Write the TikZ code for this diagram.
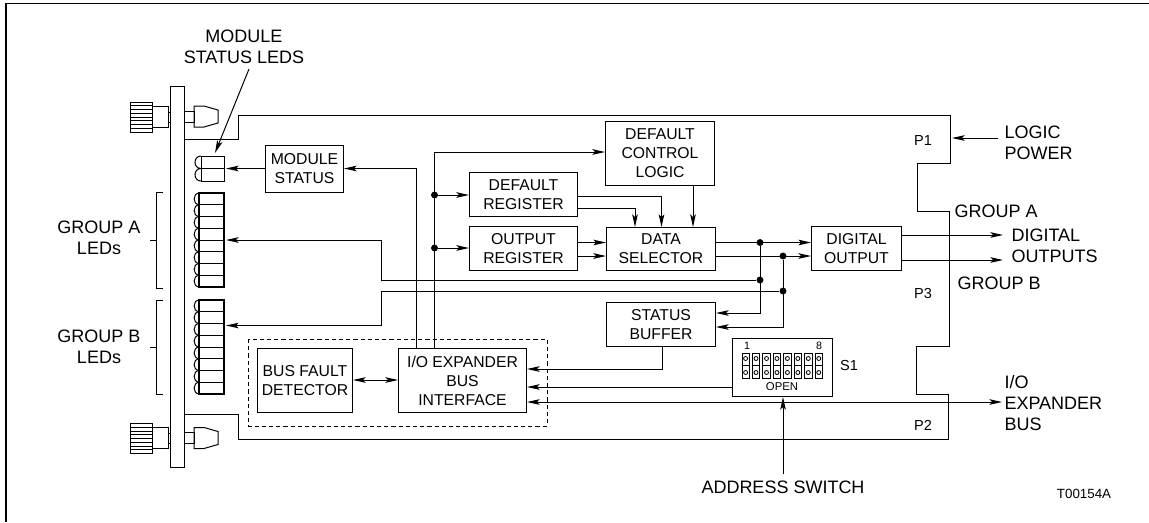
\documentclass[tikz,border=0pt]{standalone}
\usepackage{fontspec}
\setmainfont{Liberation Sans}
\usetikzlibrary{arrows.meta,calc}

\tikzset{
  wire/.style={line width=0.75pt},
  >={Stealth[length=9.5pt,width=4.2pt,inset=2pt]},
  block/.style 2 args={draw,wire,anchor=north west,inner sep=0pt,align=center,
    minimum width=#1*0.75pt,minimum height=#2*0.75pt,
    font=\fontsize{11.8}{14.3}\selectfont},
  junction/.style={circle,fill=black,inner sep=0pt,minimum size=5.2pt},
  biglabel/.style={font=\fontsize{13.5}{16}\selectfont,align=center,inner sep=0pt},
  leftlabel/.style={biglabel,align=left,anchor=west},
  pinlabel/.style={font=\fontsize{10.9}{13}\selectfont,inner sep=0pt}
}

\begin{document}
\begin{tikzpicture}[x=0.75pt,y=-0.75pt,wire]
\useasboundingbox (0,0) rectangle (1149,522);

% Frame
\draw[line width=1pt] (6,522) -- (6,3.5) -- (1149,3.5);

% Panel and board
\draw (170,86) rectangle (184,467);
\draw (184,139) -- (238,139) -- (238,115) -- (950,115) -- (950,163) -- (917,163) -- (917,211)
  -- (949,211) -- (949,346) -- (916,346) -- (916,394) -- (948,394) -- (948,439) -- (238,439)
  -- (238,414) -- (184,414);

% Knobs
\foreach \ky in {0,321.5} {
  \draw (130.5,102+\ky) rectangle (152,132+\ky);
  \foreach \n in {1,...,7}
    \draw[line width=0.5pt] (130.5,102+\ky+\n*3.75) -- (152,102+\ky+\n*3.75);
  \draw (152,106+\ky) rectangle (168,127+\ky);
  \draw (168,112+\ky) rectangle (170,122+\ky);
  \draw (184,111+\ky) rectangle (194,122+\ky);
  \draw (194,106+\ky) -- (204,106+\ky) -- (218,110+\ky) -- (218,123+\ky) -- (204,127+\ky)
    -- (194,127+\ky) -- cycle;
}

% Module status LEDs
\draw (201,156) rectangle (224,181);
\draw (201,168.5) -- (224,168.5);
\draw (201,156) .. controls (193,156) and (193,168.5) .. (201,168.5)
  .. controls (193,168.5) and (193,181) .. (201,181);

% Group LEDs
\foreach \ly in {193,300} {
  \draw[line width=1pt] (199,\ly) rectangle (224,\ly+94);
  \foreach \n in {1,...,7}
    \draw (199,\ly+\n*11.75) -- (224,\ly+\n*11.75);
  \foreach \n in {0,...,7}
    \draw (199,\ly+\n*11.75) .. controls (192.5,\ly+\n*11.75+0.5) and (192.5,\ly+\n*11.75+11.25) .. (199,\ly+\n*11.75+11.75);
}

% Brackets
\draw[line width=0.6pt] (163,192) -- (156,192) -- (156,288) -- (163,288) (156,240) -- (150,240);
\draw[line width=0.6pt] (163,300) -- (156,300) -- (156,394) -- (163,394) (156,347) -- (150,347);

% Dashed area
\draw[dashed,dash pattern=on 3.2pt off 2.2pt] (248,339) rectangle (547,426);

% Blocks
\node[block={78}{47}] (modstat) at (265,145) {MODULE\\STATUS};
\node[block={109}{64}] (ctrl) at (605,121) {DEFAULT\\CONTROL\\LOGIC};
\node[block={108}{44}] (defreg) at (469,172) {DEFAULT\\REGISTER};
\node[block={108}{44}] (outreg) at (469,226) {OUTPUT\\REGISTER};
\node[block={109}{43}] (sel) at (606,227) {DATA\\SELECTOR};
\node[block={90}{44}] (digout) at (811,226) {DIGITAL\\OUTPUT};
\node[block={109}{44}] (buffer) at (606,302) {STATUS\\BUFFER};
\node[block={95}{64}] (fault) at (257,348) {BUS FAULT\\DETECTOR};
\node[block={128}{64}] (iobus) at (398,348) {I/O EXPANDER\\BUS\\INTERFACE};
\node[block={100}{58}] (dip) at (732,338) {};

% Switch S1
\foreach \n in {0,...,7} {
  \draw[line width=0.7pt] (742+\n*10.45,353) rectangle (749.3+\n*10.45,378);
  \draw[line width=0.5pt] (742+\n*10.45,365.5) -- (749.3+\n*10.45,365.5);
  \draw[line width=0.6pt] (745.6+\n*10.45,358.5) circle (2) (745.6+\n*10.45,372.5) circle (2);
}
\node[font=\fontsize{8}{9}\selectfont,inner sep=0pt] (one) at (747,346) {1};
\node[font=\fontsize{8}{9}\selectfont,inner sep=0pt] (eight) at (819,346) {8};
\node[font=\fontsize{8.5}{10}\selectfont,inner sep=0pt] (open) at (782,387) {OPEN};

% Junctions
\node[junction] (busA) at (434.5,195) {};
\node[junction] (busB) at (434.5,248) {};
\node[junction] (dA) at (760,242.5) {};
\node[junction] (dB) at (783,256) {};
\node[junction] (ledtapA) at (760,280) {};
\node[junction] (ledtapB) at (783,291) {};

% Free ends
\coordinate (ledA) at (226,240);
\coordinate (ledB) at (226,325.5);
\coordinate (ledM) at (226,168.5);
\coordinate (turnA) at (381,280);
\coordinate (turnB) at (381,291);
\coordinate (statustap) at (416,168.5);
\coordinate (bustop) at (434.5,152);
\coordinate (ledsmark) at (215,153);
\coordinate (markfrom) at (249,69);
\coordinate (power) at (998,138);
\coordinate (powerin) at (952,138);
\coordinate (outA) at (1003,235);
\coordinate (outB) at (1003,260);
\coordinate (expbus) at (1002,402);
\coordinate (addr) at (783,474);

% Left side connectors
\draw[->] (modstat.west |- ledM) -- (ledM);
\draw[->] (iobus.north -| statustap) -- (statustap) -- (modstat.east |- statustap);
\draw[->] (iobus.north -| bustop) -- (bustop) -- (ctrl.west |- bustop);
\draw[->] (busA) -- (defreg.west |- busA);
\draw[->] (busB) -- (outreg.west |- busB);
\draw[->] (ledtapA) -- (turnA) -- (turnA |- ledA) -- (ledA);
\draw[->] (ledtapB) -- (turnB) -- (turnB |- ledB) -- (ledB);
\draw[<->] (fault.east |- 0,380) -- (iobus.west |- 0,380);

% Register connectors
\draw[->] ($(defreg.east)+(0,1.5)$) -| (sel.north -| 661.5,0);
\draw[->] ($(defreg.east)+(0,13.5)$) -| (sel.north -| 635,0);
\draw[->] (ctrl.south -| 693,0) -- (sel.north -| 693,0);
\draw[->] (outreg.east |- dA) -- (sel.west |- dA);
\draw[->] (outreg.east |- dB) -- (sel.west |- dB);

% Output connectors
\draw[->] (sel.east |- dA) -- (digout.west |- dA);
\draw[->] (sel.east |- dB) -- (digout.west |- dB);
\draw[->] (dA) -- (dA |- 0,313) -- (buffer.east |- 0,313);
\draw[->] (dB) -- (dB |- 0,327) -- (buffer.east |- 0,327);
\draw[->] (digout.east |- outA) -- (outA);
\draw[->] (digout.east |- outB) -- (outB);

% Bus interface connectors
\draw[->] (buffer.south -| 662,0) -- (662,369) -- (iobus.east |- 0,369);
\draw[->] (dip.west |- 0,387) -- (iobus.east |- 0,387);
\draw[<->] (iobus.east |- expbus) -- (expbus);
\draw[->] (addr) -- (dip.south -| addr);
\draw[->] (power) -- (powerin);
\draw[->] (markfrom) -- (ledsmark);

% Labels
\node[biglabel] (lblmod) at (244,47) {MODULE\\STATUS LEDS};
\node[biglabel] (lblA) at (99,238) {GROUP A\\LEDs};
\node[biglabel] (lblB) at (99,347) {GROUP B\\LEDs};
\node[leftlabel] (lblpower) at (1004,143) {LOGIC\\POWER};
\node[leftlabel] (lblgA) at (954,211) {GROUP A};
\node[leftlabel] (lbloutputs) at (1011,246) {DIGITAL\\OUTPUTS};
\node[leftlabel] (lblgB) at (957,283) {GROUP B};
\node[leftlabel] (lblexp) at (1004,403) {I/O\\EXPANDER\\BUS};
\node[biglabel] (lbladdr) at (783,487) {ADDRESS SWITCH};
\node[pinlabel] (pone) at (923,140) {P1};
\node[pinlabel] (pthree) at (923,293) {P3};
\node[pinlabel] (ptwo) at (923,425) {P2};
\node[pinlabel] (sone) at (849,365) {S1};
\node[font=\fontsize{10}{12}\selectfont,inner sep=0pt] (drawno) at (1084,494) {T00154A};

\end{tikzpicture}
\end{document}
